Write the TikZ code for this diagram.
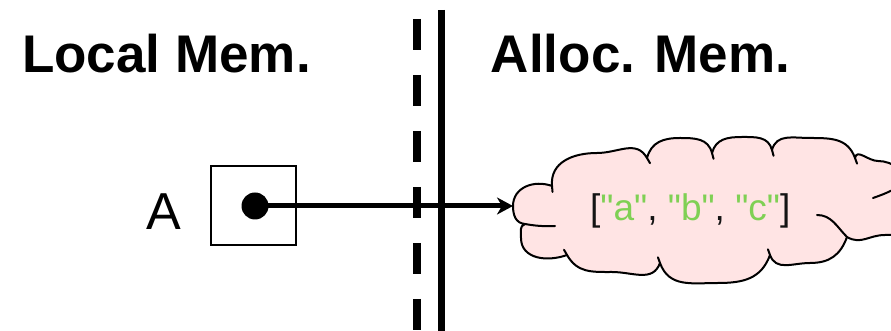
\documentclass[tikz,border=0pt]{standalone}
\usepackage{fontspec}
\setmainfont{Liberation Sans}
\newfontfamily\codefont{Liberation Sans}[Ligatures=TeXOff]
\usetikzlibrary{arrows.meta}
\definecolor{cloudfill}{RGB}{255,228,228}
\definecolor{strgreen}{RGB}{127,208,84}
\definecolor{txtdark}{RGB}{20,20,20}
\tikzset{
  heading/.style={anchor=base west, inner sep=0pt, font=\bfseries\fontsize{53}{60}\selectfont},
  cloudline/.style={line width=2pt, line join=round, line cap=round},
  stub/.style={cloudline},
}
\begin{document}
\begin{tikzpicture}[x=1pt,y=1pt]
\useasboundingbox (0,0) rectangle (891,331);
% headings
\node[heading] (local) at (22,258.3) {Local Mem.};
\node[heading] (alloc) at (490.7,258.3) {Alloc. Mem.};
% divider lines
\coordinate (dashtop) at (417,312);
\coordinate (dashbot) at (417,0);
\coordinate (soltop) at (441.5,321);
\coordinate (solbot) at (441.5,0);
\draw[line width=8pt, dash pattern=on 31pt off 25pt] (dashtop) -- (dashbot);
\draw[line width=7pt] (soltop) -- (solbot);
% cloud
\path[cloudline, draw=black, fill=cloudfill, looseness=1.1]
  (525,107) to[out=175,in=270] (513,125) to[out=90,in=160] (552,145)
  to[out=95,in=180] (597,178) to[out=0,in=120] (647,173)
  to[out=75,in=180] (680,193) to[out=0,in=105] (712,178)
  to[out=75,in=180] (742,194) to[out=0,in=105] (772,181)
  to[out=75,in=180] (810,193) to[out=0,in=110] (855,173)
  to[out=80,in=180] (878,170) to[out=0,in=60] (902,146)
  to[out=-10,in=90] (935,122) to[out=270,in=0] (885,96) to[out=180,in=-30] (847,94)
  to[out=250,in=0] (810,68) to[out=180,in=290] (770,76)
  to[out=250,in=0] (718,48) to[out=180,in=290] (660,68)
  to[out=250,in=0] (612,59) to[out=180,in=300] (567,76)
  to[out=200,in=270] (521,93) to[out=90,in=200] (525,107) -- cycle;
% cloud inner strokes
\draw[stub] (525,107) to[bend right=6] (555,105);
\draw[stub] (847,94) to[out=135,in=0] (817,116);
\draw[stub] (902,146) to[bend left=5] (873,133);
\draw[stub] (552,145) -- ++(-85:6);
\draw[stub] (647,173) -- ++(-60:6);
\draw[stub] (712,178) -- ++(-75:6);
\draw[stub] (772,181) -- ++(-75:6);
\draw[stub] (855,173) -- ++(-70:6);
\draw[stub] (770,76) -- ++(110:6);
\draw[stub] (660,68) -- ++(110:6);
\draw[stub] (567,76) -- ++(120:6);
\coordinate (cloudW) at (513,125);
\node[anchor=base west, inner sep=0pt, font=\codefont\fontsize{37}{44}\selectfont, text=txtdark] (arr) at (590,110)
  {[\textcolor{strgreen}{"a"}, \textcolor{strgreen}{"b"}, \textcolor{strgreen}{"c"}]};
% variable A
\node[anchor=base west, inner sep=0pt, font=\fontsize{52}{60}\selectfont] (varA) at (146,101) {A};
\node[draw, line width=2pt, minimum width=85pt, minimum height=79pt, inner sep=0pt] (box) at (253.5,125.5) {};
\node[circle, fill=black, minimum size=27pt, inner sep=0pt] (dot) at (255,125) {};
\draw[line width=5pt, -{Stealth[length=16pt,width=17pt,inset=5pt]}] (dot.center) -- (cloudW);
\end{tikzpicture}
\end{document}
